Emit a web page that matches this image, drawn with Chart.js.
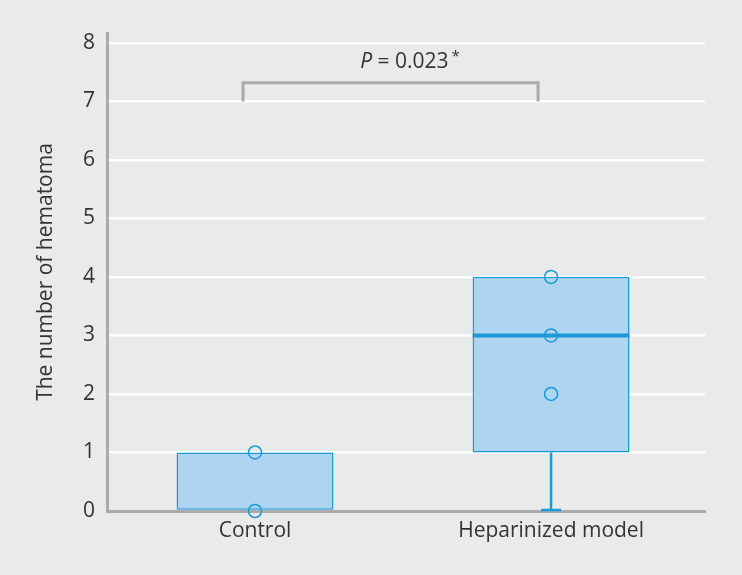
<!DOCTYPE html>
<html>
<head>
<meta charset="utf-8">
<script src="https://cdn.jsdelivr.net/npm/chart.js@4/dist/chart.umd.min.js"></script>
<style>
  html, body { margin: 0; padding: 0; background: #e9eaea; }
  #wrap { width: 742px; height: 575px; }
</style>
</head>
<body>
<div id="wrap"><canvas id="chart"></canvas></div>
<script>
// data
const groups = ['Control', 'Heparinized model'];
const q1 = [0, 1];
const q3 = [1, 4];
const medians = [null, 3];
const whiskerLow = [0, 0];
const pointsControl = [1, 0];
const pointsHeparin = [4, 3, 2];
const yTicks = [0, 1, 2, 3, 4, 5, 6, 7, 8];
const pText = '0.023';

const blue = '#1a9ad6';
const fill = '#aed4f0';
const axisGrey = '#a8aaad';
const txt = '#333333';
const font = '"Open Sans", sans-serif';

// median, whiskers and the significance bracket
const extras = {
  id: 'extras',
  afterDatasetsDraw(chart) {
    const ctx = chart.ctx;
    const x = chart.scales.x, y = chart.scales.y;
    const meta = chart.getDatasetMeta(0);
    ctx.save();
    meta.data.forEach((bar, i) => {
      const half = bar.width / 2;
      ctx.strokeStyle = blue;
      if (whiskerLow[i] < q1[i]) {
        ctx.lineWidth = 2.5;
        ctx.beginPath();
        ctx.moveTo(bar.x, y.getPixelForValue(q1[i]));
        ctx.lineTo(bar.x, y.getPixelForValue(whiskerLow[i]));
        ctx.stroke();
        ctx.beginPath();
        ctx.moveTo(bar.x - 10, y.getPixelForValue(whiskerLow[i]) - 1);
        ctx.lineTo(bar.x + 10, y.getPixelForValue(whiskerLow[i]) - 1);
        ctx.stroke();
      }
      if (medians[i] !== null) {
        ctx.lineWidth = 4;
        ctx.beginPath();
        ctx.moveTo(bar.x - half, y.getPixelForValue(medians[i]));
        ctx.lineTo(bar.x + half, y.getPixelForValue(medians[i]));
        ctx.stroke();
      }
    });

    // bracket
    const left = x.getPixelForValue(0) - 12;
    const right = x.getPixelForValue(1) - 13;
    const top = y.getPixelForValue(7.32);
    const bottom = y.getPixelForValue(7.0);
    ctx.strokeStyle = axisGrey;
    ctx.lineWidth = 3;
    ctx.beginPath();
    ctx.moveTo(left, bottom);
    ctx.lineTo(left, top);
    ctx.lineTo(right, top);
    ctx.lineTo(right, bottom);
    ctx.stroke();

    // P = 0.023*
    const parts = [
      { t: 'P', f: 'italic 21px ' + font, dy: 0, gap: 0 },
      { t: ' = ' + pText, f: '21px ' + font, dy: 0, gap: 3 },
      { t: '*', f: '15px ' + font, dy: -7, gap: 0 }
    ];
    let total = 0;
    parts.forEach(p => { ctx.font = p.f; p.w = ctx.measureText(p.t).width; total += p.w + p.gap; });
    let cx = 410 - total / 2;
    const base = y.getPixelForValue(7.58);
    ctx.fillStyle = txt;
    ctx.textBaseline = 'alphabetic';
    parts.forEach(p => {
      ctx.font = p.f;
      ctx.fillText(p.t, cx, base + p.dy);
      cx += p.w + p.gap;
    });
    ctx.restore();
  }
};

const boxData = groups.map((g, i) => ({ x: i, y: [q1[i], q3[i]] }));
const pointData = []
  .concat(pointsControl.map(v => ({ x: 0, y: v })))
  .concat(pointsHeparin.map(v => ({ x: 1, y: v })));

new Chart(document.getElementById('chart'), {
  type: 'bar',
  data: {
    datasets: [
      {
        type: 'bar',
        data: boxData,
        backgroundColor: fill,
        borderColor: blue,
        borderWidth: 1.5,
        borderSkipped: false,
        categoryPercentage: 1,
        barPercentage: 0.53,
        order: 2
      },
      {
        type: 'line',
        data: pointData,
        showLine: false,
        clip: false,
        pointRadius: 6.5,
        pointBorderWidth: 1.5,
        pointBorderColor: blue,
        pointBackgroundColor: 'rgba(0,0,0,0)',
        order: 1
      }
    ]
  },
  options: {
    responsive: true,
    maintainAspectRatio: false,
    animation: false,
    layout: { padding: { top: 33, right: 37, left: 0, bottom: 0 } },
    plugins: { legend: { display: false }, tooltip: { enabled: false } },
    scales: {
      x: {
        type: 'linear',
        offset: false,
        min: -0.5,
        max: 1.52,
        afterBuildTicks: axis => { axis.ticks = groups.map((g, i) => ({ value: i })); },
        afterFit: axis => { axis.height = 64; },
        ticks: {
          callback: v => groups[v],
          color: txt,
          font: { family: font, size: 21 },
          padding: 7
        },
        grid: { display: false, drawTicks: false, offset: false },
        border: { color: axisGrey, width: 3 }
      },
      y: {
        min: 0,
        max: 8.17,
        afterBuildTicks: axis => { axis.ticks = yTicks.map(v => ({ value: v })); },
        afterFit: axis => { axis.width = 107; },
        ticks: {
          color: txt,
          font: { family: font, size: 21 },
          padding: 12
        },
        grid: { color: '#ffffff', lineWidth: 2.5, drawTicks: false },
        border: { color: axisGrey, width: 3 },
        title: {
          display: true,
          text: 'The number of hematoma',
          color: txt,
          font: { family: font, size: 21 },
          padding: { top: 33, bottom: 0 }
        }
      }
    }
  },
  plugins: [extras]
});
</script>
</body>
</html>
